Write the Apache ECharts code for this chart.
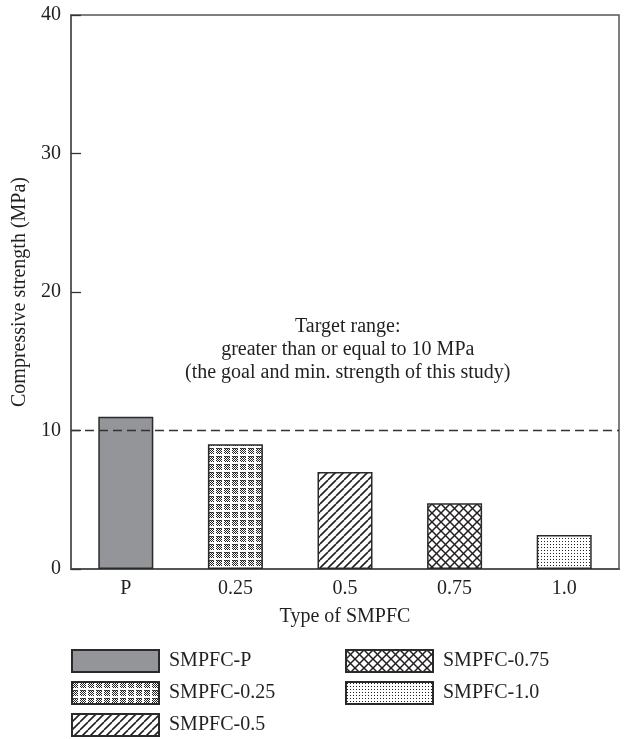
<!DOCTYPE html>
<html><head><meta charset="utf-8">
<script src="https://cdn.jsdelivr.net/npm/echarts@6/dist/echarts.min.js"></script>
<style>html,body{margin:0;padding:0;background:#fff}#c{width:624px;height:739px}</style>
</head><body><div id="c"></div>
<script>
var categories = ['P', '0.25', '0.5', '0.75', '1.0'];
var seriesNames = ['SMPFC-P', 'SMPFC-0.25', 'SMPFC-0.5', 'SMPFC-0.75', 'SMPFC-1.0'];
var strengths = [11.0, 9.0, 7.0, 4.75, 2.45];
var targetValue = 10;
var yTicks = [0, 10, 20, 30, 40];
var annotationLines = ['Target range:', 'greater than or equal to 10 MPa', '(the goal and min. strength of this study)'];

var INK = '#231f20';
var FONT = 'Liberation Serif';
var FS = 20;

function makeCanvas(w, h, draw) {
  var c = document.createElement('canvas');
  c.width = w; c.height = h;
  var ctx = c.getContext('2d');
  ctx.fillStyle = '#fff'; ctx.fillRect(0, 0, w, h);
  draw(ctx, w, h);
  return c;
}
var patChecker = makeCanvas(8, 8, function (ctx) {
  ctx.fillStyle = '#222';
  for (var i = 0; i < 6; i++) for (var j = 0; j < 6; j++) if ((i + j) % 2 === 0) ctx.fillRect(i, j, 1, 1);
  ctx.fillStyle = '#555';
  for (var m = 0; m < 6; m++) if (m % 2 === 1) { ctx.fillRect(m, 0, 1, 1); }
});
var patDiag = makeCanvas(8, 8, function (ctx, w, h) {
  ctx.strokeStyle = INK; ctx.lineWidth = 1.6;
  for (var o = -w; o <= w; o += w) { ctx.beginPath(); ctx.moveTo(o, h); ctx.lineTo(o + w, 0); ctx.stroke(); }
});
var patCross = makeCanvas(9, 9, function (ctx, w, h) {
  ctx.strokeStyle = INK; ctx.lineWidth = 1.5;
  for (var o = -w; o <= w; o += w) {
    ctx.beginPath(); ctx.moveTo(o, h); ctx.lineTo(o + w, 0); ctx.stroke();
    ctx.beginPath(); ctx.moveTo(o, 0); ctx.lineTo(o + w, h); ctx.stroke();
  }
});
var patDots = makeCanvas(3, 3, function (ctx) {
  ctx.fillStyle = '#222'; ctx.fillRect(1, 1, 1, 1);
});
var fills = ['#939598',
  { image: patChecker, repeat: 'repeat' },
  { image: patDiag, repeat: 'repeat' },
  { image: patCross, repeat: 'repeat' },
  { image: patDots, repeat: 'repeat' }];

var series = seriesNames.map(function (name, k) {
  var data = categories.map(function (c, i) { return i === k ? strengths[i] : '-'; });
  var s = {
    name: name, type: 'bar', stack: 'all', barWidth: 55, data: data,
    itemStyle: { color: fills[k], borderColor: '#2a2a2a', borderWidth: 1.5 }
  };
  if (k === 0) {
    s.markLine = {
      silent: true, symbol: 'none', label: { show: false },
      lineStyle: { color: '#333', width: 1.3, type: [9, 5] },
      data: [{ yAxis: targetValue }]
    };
  }
  return s;
});

var legendCommon = {
  orient: 'vertical', top: 649, height: 100, padding: 0, itemWidth: 87, itemHeight: 22, itemGap: 8,
  icon: 'rect', selectedMode: false,
  textStyle: { fontFamily: FONT, fontSize: FS, color: INK, padding: [0, 0, 0, 5] }
};

var chart = echarts.init(document.getElementById('c'), null, { renderer: 'canvas' });
chart.setOption({
  animation: false,
  backgroundColor: '#fff',
  grid: { left: 71, right: 5, top: 15, bottom: 170, show: true, borderColor: '#555', borderWidth: 1.5,
          containLabel: false, outerBoundsMode: 'none' },
  legend: [
    Object.assign({ left: 71, data: seriesNames.slice(0, 3) }, legendCommon),
    Object.assign({ left: 345, data: seriesNames.slice(3) }, legendCommon)
  ],
  xAxis: {
    type: 'category', data: categories,
    name: 'Type of SMPFC', nameLocation: 'middle', nameGap: 38,
    nameTextStyle: { fontFamily: FONT, fontSize: FS, color: INK },
    axisLine: { lineStyle: { color: '#555', width: 2 } },
    axisTick: { show: false },
    axisLabel: { fontFamily: FONT, fontSize: FS, color: INK, margin: 10 }
  },
  yAxis: {
    type: 'value', min: yTicks[0], max: yTicks[yTicks.length - 1], interval: yTicks[1] - yTicks[0],
    name: 'Compressive strength (MPa)', nameLocation: 'middle', nameGap: 37,
    nameTextStyle: { fontFamily: FONT, fontSize: FS, color: INK },
    axisLine: { show: true, lineStyle: { color: '#555', width: 1.5 } },
    axisTick: { show: true, inside: true, length: 10, lineStyle: { color: '#333', width: 1.3 } },
    splitLine: { show: false },
    axisLabel: { fontFamily: FONT, fontSize: FS, color: INK, margin: 10 }
  },
  graphic: [{
    type: 'text', left: 345 - 160, top: 315, z: 10,
    style: {
      text: annotationLines.join('\n'), font: FS + 'px "' + FONT + '"', fill: INK,
      textAlign: 'center', lineHeight: 23, width: 320
    }
  }],
  series: series
});
</script></body></html>
